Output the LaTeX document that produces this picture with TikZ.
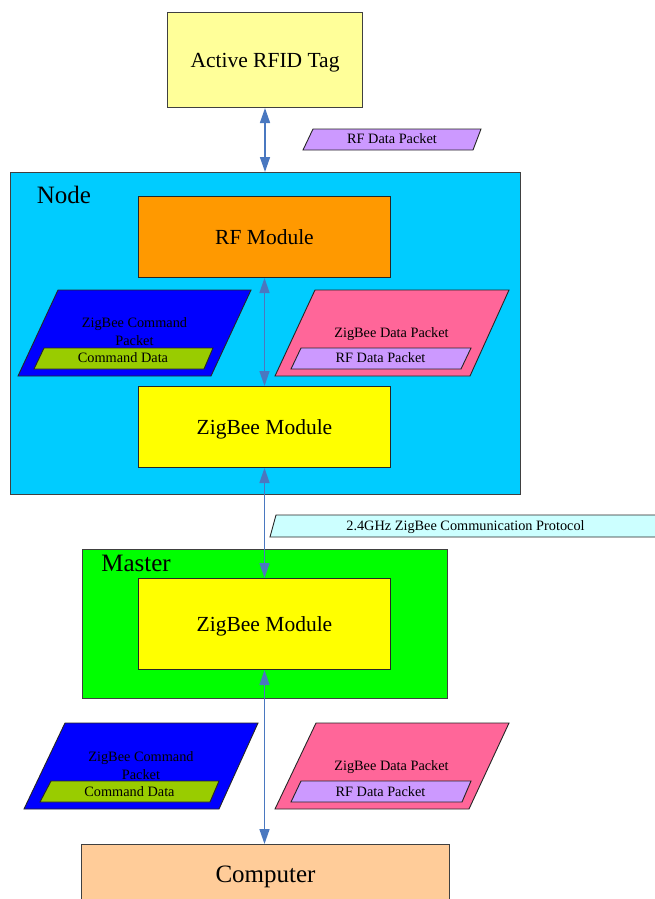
\documentclass[tikz,border=0pt]{standalone}
\usepackage{fontspec}
\setmainfont{Liberation Serif}
\usetikzlibrary{arrows.meta}

\definecolor{tagyellow}{HTML}{FFFF99}
\definecolor{nodecyan}{HTML}{00CCFF}
\definecolor{rforange}{HTML}{FF9900}
\definecolor{zbyellow}{HTML}{FFFF00}
\definecolor{cmdblue}{HTML}{0000FF}
\definecolor{cmdgreen}{HTML}{99CC00}
\definecolor{datapink}{HTML}{FF6699}
\definecolor{rflilac}{HTML}{CC99FF}
\definecolor{protocyan}{HTML}{CCFFFF}
\definecolor{mastergreen}{HTML}{00FF00}
\definecolor{pcpeach}{HTML}{FFCC99}
\definecolor{linkblue}{RGB}{74,120,192}
\definecolor{edgegray}{HTML}{404040}

\tikzset{
  block/.style={draw=edgegray, line width=1pt, anchor=north west, inner sep=0pt},
  module/.style={block, draw=black!85, minimum width=252pt},
  bigtext/.style={font=\fontsize{21.5}{25}\selectfont, text depth=0pt},
  hugetext/.style={font=\fontsize{25}{30}\selectfont},
  smalltext/.style={font=\fontsize{14.3}{18}\selectfont, inner sep=0pt, align=center, text depth=0pt},
  packet/.style={draw=black!85, line width=0.9pt, line join=miter},
  link/.style={draw=linkblue, line width=1.5pt,
    {Triangle[length=15pt,width=10pt]}-{Triangle[length=15pt,width=10pt]}},
}

\begin{document}
\begin{tikzpicture}[x=1pt, y=-1pt]
  \useasboundingbox (0,0) rectangle (654,899);

  % tag at the top
  \node[block, fill=tagyellow, minimum width=195pt, minimum height=95pt, bigtext]
    (tag) at (167,12) {Active RFID Tag};

  % RF packet on the air link
  \draw[packet, fill=rflilac] (313,129) -- (481,129) -- (473,150) -- (303,150) -- cycle;
  \node[smalltext] (airpkt) at (392,139) {RF Data Packet};

  % reader node
  \node[block, fill=nodecyan, minimum width=510pt, minimum height=322pt] (nodebox) at (10,172) {};
  \node[hugetext, inner sep=0pt] (nodelabel) at (64,195) {Node};
  \node[module, fill=rforange, minimum height=81pt, bigtext] (rfmod) at (138,196) {RF Module};
  \node[module, fill=zbyellow, minimum height=81pt, bigtext] (zbnode) at (138,386) {ZigBee Module};

  % packets inside the node
  \draw[packet, fill=cmdblue] (58,290) -- (251,290) -- (211,376) -- (18,376) -- cycle;
  \node[smalltext] (ncmd) at (134.5,332) {ZigBee Command\\Packet};
  \draw[packet, fill=cmdgreen] (44,348) -- (213,348) -- (204,369) -- (34,369) -- cycle;
  \node[smalltext] (ncmddata) at (123,358) {Command Data};

  \draw[packet, fill=datapink] (315,290) -- (509,290) -- (470,376) -- (275,376) -- cycle;
  \node[smalltext] (ndata) at (391.5,333) {ZigBee Data Packet};
  \draw[packet, fill=rflilac] (301,348) -- (471,348) -- (461,369) -- (291,369) -- cycle;
  \node[smalltext] (nrfdata) at (380.5,358) {RF Data Packet};

  % radio protocol between node and master
  \draw[packet, fill=protocyan] (276,515) -- (662,515) -- (656,537) -- (270,537) -- cycle;
  \node[smalltext] (proto) at (465.5,526) {2.4GHz ZigBee Communication Protocol};

  % master
  \node[block, fill=mastergreen, minimum width=365pt, minimum height=149pt] (master) at (82,549) {};
  \node[hugetext, inner sep=0pt] (masterlabel) at (136,563) {Master};
  \node[module, fill=zbyellow, minimum height=91pt, bigtext] (zbmaster) at (138,578) {ZigBee Module};

  % packets between master and computer
  \draw[packet, fill=cmdblue] (65,723) -- (258,723) -- (219,809) -- (24,809) -- cycle;
  \node[smalltext] (mcmd) at (141,766) {ZigBee Command\\Packet};
  \draw[packet, fill=cmdgreen] (51,781) -- (219,781) -- (210,802) -- (40,802) -- cycle;
  \node[smalltext] (mcmddata) at (129.5,792) {Command Data};

  \draw[packet, fill=datapink] (316,723) -- (509,723) -- (469,809) -- (275,809) -- cycle;
  \node[smalltext] (mdata) at (391.5,766) {ZigBee Data Packet};
  \draw[packet, fill=rflilac] (301,781) -- (471,781) -- (462,802) -- (291,802) -- cycle;
  \node[smalltext] (mrfdata) at (380.5,792) {RF Data Packet};

  % computer
  \node[block, fill=pcpeach, minimum width=368pt, minimum height=59pt, hugetext, text depth=0pt]
    (pc) at (81,844) {Computer};

  % links
  \draw[link] (tag.south) -- (tag.south |- nodebox.north);
  \draw[link] (rfmod.south) -- (zbnode.north);
  \draw[link] (zbnode.south) -- (zbmaster.north);
  \draw[link] (zbmaster.south) -- (zbmaster.south |- pc.north);
\end{tikzpicture}
\end{document}
